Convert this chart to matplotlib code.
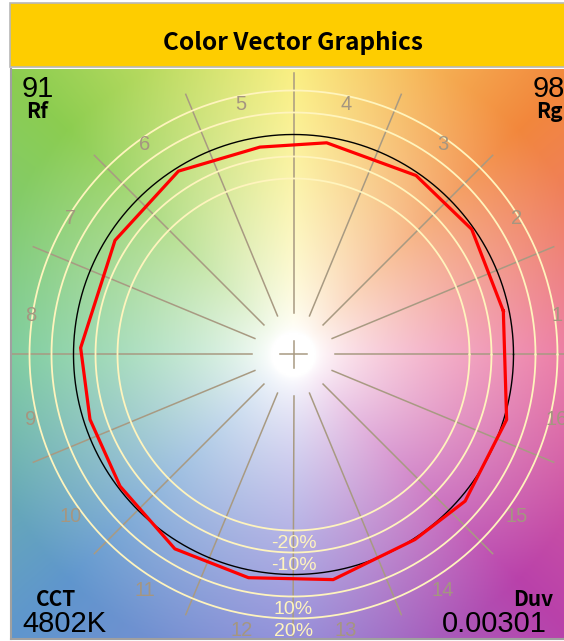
import matplotlib
matplotlib.use("Agg")
import matplotlib.pyplot as plt
import matplotlib.transforms as mtransforms
from matplotlib.patches import Rectangle
import numpy as np

# --- data ---
hue_angles = [11.7, 35.1, 55.6, 81.1, 99.2, 122.1, 147.4, 178.2,
              197.7, 217.2, 238.6, 258.6, 280.0, 303.3, 319.5, 343.0]
chroma_ratio = [0.974, 0.990, 0.986, 0.974, 0.955, 0.984, 0.963, 0.968,
                0.971, 0.990, 1.035, 1.035, 1.039, 1.006, 1.026, 1.013]
bin_labels = [str(i) for i in range(1, 17)]
ring_levels = [-0.2, -0.1, 0.1, 0.2]
ring_labels = ["-20%", "-10%", "10%", "20%"]
Rf, Rg = "91", "98"
CCT, Duv = "4802K", "0.00301"

W, H = 564, 641
fig = plt.figure(figsize=(W / 100, H / 100), dpi=100)
fig.patch.set_facecolor("white")

# header bar
fig.patches.append(Rectangle((10 / W, 1 - 67 / H), 1.0, 64 / H, transform=fig.transFigure,
                             facecolor="#fecd00", edgecolor="#b8b8b8", lw=1.2))
fig.text(293 / W, 1 - 43 / H, "Color Vector Graphics", ha="center", va="center",
         fontsize=17.5, fontweight="bold", family=["Noto Sans CJK JP", "DejaVu Sans"])

# main plot area, px per unit = 220 (reference circle radius)
s = 220.0
cx, cy = 293.5, 354.5
left, right, top, bot = 11, 576, 69, 639
ax = fig.add_axes([left / W, 1 - bot / H, (right - left) / W, (bot - top) / H])
x0, x1 = (left - cx) / s, (right - cx) / s
y0, y1 = (cy - bot) / s, (cy - top) / s
ax.set_xlim(x0, x1)
ax.set_ylim(y0, y1)
ax.axis("off")

# background hue wheel
gx = np.linspace(x0, x1, 400)
gy = np.linspace(y0, y1, 400)
X, Y = np.meshgrid(gx, gy)
ang = np.degrees(np.arctan2(Y, X)) % 360
rad = np.hypot(X, Y)
anchor_ang = np.array([0, 45, 90, 135, 180, 225, 270, 315, 360])
anchor_col = np.array([
    [234, 110, 155], [242, 135, 60], [250, 238, 120], [140, 205, 80],
    [115, 200, 150], [95, 150, 205], [140, 135, 215], [185, 65, 170],
    [234, 110, 155]]) / 255.0
img = np.zeros(X.shape + (3,))
for c in range(3):
    img[..., c] = np.interp(ang, anchor_ang, anchor_col[:, c])
sat = np.clip((rad - 0.1) / 1.35, 0, 1) ** 0.7
img = 1 - sat[..., None] * (1 - img)
ax.imshow(img, extent=(x0, x1, y0, y1), origin="lower", aspect="auto", zorder=0)

# radial spokes and centre cross
line_col = "#a89a82"
for k in range(16):
    a = np.radians(k * 22.5)
    ax.plot([0.19 * np.cos(a), 1.28 * np.cos(a)], [0.19 * np.sin(a), 1.28 * np.sin(a)],
            color=line_col, lw=1.1, zorder=2)
ax.plot([-0.062, 0.062], [0, 0], color=line_col, lw=1.1, zorder=2)
ax.plot([0, 0], [-0.062, 0.062], color=line_col, lw=1.1, zorder=2)

# rings
t = np.linspace(0, 2 * np.pi, 400)
down = mtransforms.offset_copy(ax.transData, fig=fig, y=-13, units="dots")
for lev, lab in zip(ring_levels, ring_labels):
    r = 1 + lev
    ax.plot(r * np.cos(t), r * np.sin(t), color="#fff4bd", lw=1.3, zorder=3)
    ax.text(0, -r, lab, transform=down, ha="center", va="center", fontsize=14,
            color="#fff4bd", family="Liberation Sans", zorder=6)
ax.plot(np.cos(t), np.sin(t), color="black", lw=1.0, zorder=4)

# bin labels
for k, lab in enumerate(bin_labels):
    a = np.radians(k * 22.5 + 11.25)
    ax.text(1.22 * np.cos(a), 1.22 * np.sin(a), lab, transform=down, ha="center",
            va="center", fontsize=14.5, color="#a59680",
            family="Liberation Sans", zorder=5)

# test source vector polygon
ha = np.radians(np.array(hue_angles + hue_angles[:1]))
cr = np.array(chroma_ratio + chroma_ratio[:1])
ax.plot(cr * np.cos(ha), cr * np.sin(ha), color="#ff0000", lw=2.3, zorder=5)

# frame lines
fig.add_artist(plt.Line2D([left / W, left / W], [1 - bot / H, 1 - top / H], color="#a0a0a0", lw=1.5))
fig.add_artist(plt.Line2D([left / W, 1], [1 - bot / H, 1 - bot / H], color="#a0a0a0", lw=1.5))

# corner metrics
num = dict(fontsize=21, family="Liberation Sans", color="black")
lab = dict(fontsize=15, fontweight="bold", family=["Noto Sans CJK JP", "DejaVu Sans"], color="black")
fig.text(22 / W, 1 - 89 / H, Rf, ha="left", va="center", **num)
fig.text(37 / W, 1 - 112 / H, "Rf", ha="center", va="center", **lab)
fig.text(533 / W, 1 - 89 / H, Rg, ha="left", va="center", **num)
fig.text(536 / W, 1 - 112 / H, "Rg", ha="left", va="center", **lab)
fig.text(56 / W, 1 - 599 / H, "CCT", ha="center", va="center", **lab)
fig.text(22 / W, 1 - 624 / H, CCT, ha="left", va="center", **num)
fig.text(553 / W, 1 - 599 / H, "Duv", ha="right", va="center", **lab)
fig.text(547 / W, 1 - 624 / H, Duv, ha="right", va="center", **num)

fig.savefig("out.png", dpi=100)
